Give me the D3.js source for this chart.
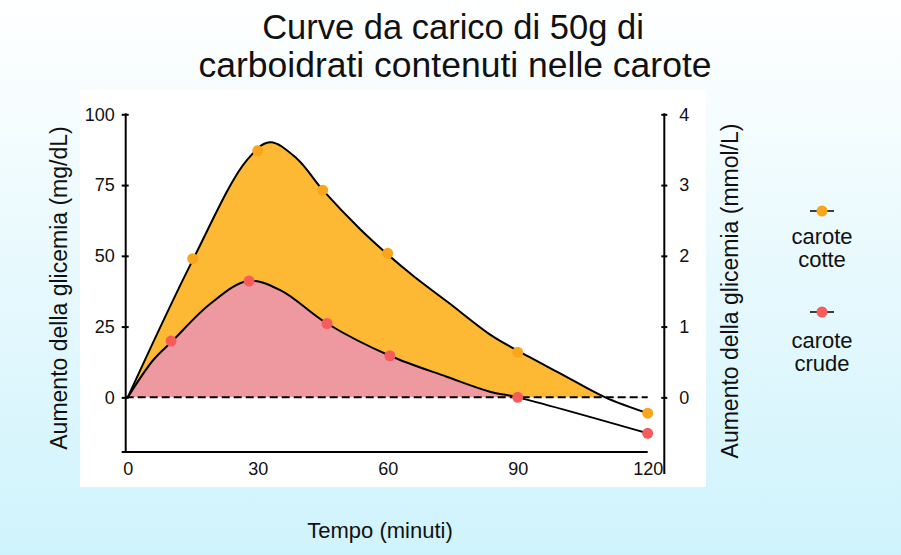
<!DOCTYPE html>
<html>
<head>
<meta charset="utf-8">
<script src="https://cdn.jsdelivr.net/npm/d3@7"></script>
<style>
  html, body { margin: 0; padding: 0; }
  body { width: 901px; height: 555px; overflow: hidden; }
  text { font-family: "Liberation Sans", Arial, sans-serif; fill: #111; }
</style>
</head>
<body>
<svg id="chart" width="901" height="555"></svg>
<script>
// ---------- data ----------
const titleLines = ["Curve da carico di 50g di", "carboidrati contenuti nelle carote"];
const xTicks = [0, 30, 60, 90, 120];
const yTicksMg = [0, 25, 50, 75, 100];
const yTicksMmol = [0, 1, 2, 3, 4];
const seriesNames = ["carote cotte", "carote crude"];

// measured points (dots)
const cotteTime  = [15, 30, 45, 60, 90, 120];
const cotteValue = [49, 87.1, 73.2, 50.9, 15.9, -5.6];
const crudeTime  = [10, 28, 46, 60.5, 90, 120];
const crudeValue = [19.9, 41.1, 26.1, 14.7, 0, -12.7];

// fitted curves as drawn in the reference
const cotteCurveTime  = [0, 15, 27.5, 32.8, 39, 45, 53.6, 60, 66, 74, 84, 90, 100, 110.2, 120];
const cotteCurveValue = [0, 48.5, 83.8, 90.1, 84.4, 73.3, 59.5, 50.5, 42.8, 33.5, 21.8, 16.5, 8.3, 0, -5.6];
const crudeCurveTime  = [0, 5.9, 10.3, 19, 27.7, 35.2, 46, 60.5, 73.6, 83.6, 90, 120];
const crudeCurveValue = [0, 13.2, 19.9, 33, 41.1, 37.9, 26.1, 14.7, 7.3, 2, 0, -12.7];

const colors = {
  cotteFill: "#fdb834", cotteDot: "#f9a61c",
  crudeFill: "#ee989f", crudeDot: "#f75c5c"
};

// ---------- drawing ----------
const svg = d3.select("#chart");
const defs = svg.append("defs");
const grad = defs.append("linearGradient").attr("id", "bg").attr("x1", 0).attr("y1", 0).attr("x2", 0).attr("y2", 1);
grad.append("stop").attr("offset", "0%").attr("stop-color", "#ffffff");
grad.append("stop").attr("offset", "100%").attr("stop-color", "#cff3fc");
svg.append("rect").attr("width", 901).attr("height", 555).attr("fill", "url(#bg)");

// white plot panel
svg.append("rect").attr("x", 80).attr("y", 90).attr("width", 626).attr("height", 397).attr("fill", "#ffffff");

const x = d3.scaleLinear().domain([0, 120]).range([127.7, 647.7]);
const y = d3.scaleLinear().domain([-19.3, 100]).range([452, 114.3]);
const yR = d3.scaleLinear().domain([-19.3 / 25, 4]).range([452, 114.3]);

const axisXLeft = 125.7, axisXRight = 664.3, axisYBottom = 452;

// clip for positive area
defs.append("clipPath").attr("id", "pos").append("rect")
  .attr("x", 0).attr("y", 0).attr("width", 901).attr("height", y(0));

const cotteCurve = cotteCurveTime.map((t, i) => [t, cotteCurveValue[i]]);
const crudeCurve = crudeCurveTime.map((t, i) => [t, crudeCurveValue[i]]);

const curveType = d3.curveCatmullRom.alpha(0.5);
const area = d3.area().x(d => x(d[0])).y0(y(0)).y1(d => y(d[1])).curve(curveType);
const line = d3.line().x(d => x(d[0])).y(d => y(d[1])).curve(curveType);

const gClip = svg.append("g").attr("clip-path", "url(#pos)");
gClip.append("path").datum(cotteCurve).attr("d", area).attr("fill", colors.cotteFill);
gClip.append("path").datum(crudeCurve).attr("d", area).attr("fill", colors.crudeFill);

svg.append("path").datum(cotteCurve).attr("d", line).attr("fill", "none").attr("stroke", "#000").attr("stroke-width", 2);
svg.append("path").datum(crudeCurve).attr("d", line).attr("fill", "none").attr("stroke", "#000").attr("stroke-width", 2);

// dashed zero line
svg.append("line").attr("x1", axisXLeft).attr("x2", x(120)).attr("y1", y(0)).attr("y2", y(0))
  .attr("stroke", "#000").attr("stroke-width", 2).attr("stroke-dasharray", "8,4");

// dots
svg.append("g").selectAll("circle").data(cotteTime).join("circle")
  .attr("cx", d => x(d)).attr("cy", (d, i) => y(cotteValue[i])).attr("r", 5.5).attr("fill", colors.cotteDot);
svg.append("g").selectAll("circle").data(crudeTime).join("circle")
  .attr("cx", d => x(d)).attr("cy", (d, i) => y(crudeValue[i])).attr("r", 5.5).attr("fill", colors.crudeDot);

// left axis
const gL = svg.append("g").attr("transform", `translate(${axisXLeft},0)`)
  .call(d3.axisLeft(y).tickValues(yTicksMg).tickSize(4).tickSizeOuter(0).tickPadding(7));
gL.select(".domain").remove();
gL.selectAll(".tick line").attr("x1", -4).attr("x2", 3).attr("stroke-width", 2);
gL.selectAll(".tick text").style("font-size", "18px").attr("fill", "#111");
gL.append("line").attr("x1", 0).attr("x2", 0).attr("y1", y(100) - 1).attr("y2", axisYBottom + 1).attr("stroke", "#000").attr("stroke-width", 2);
gL.append("line").attr("x1", -4).attr("x2", 0).attr("y1", axisYBottom).attr("y2", axisYBottom).attr("stroke", "#000").attr("stroke-width", 2);

// bottom axis
const gB = svg.append("g").attr("transform", `translate(0,${axisYBottom})`)
  .call(d3.axisBottom(x).tickValues(xTicks).tickSize(0).tickPadding(10));
gB.select(".domain").remove();
gB.append("line").attr("x1", axisXLeft).attr("x2", x(120)).attr("y1", 0).attr("y2", 0).attr("stroke", "#000").attr("stroke-width", 2);
gB.selectAll(".tick text").style("font-size", "18px").attr("fill", "#111");

// right axis
const gR = svg.append("g").attr("transform", `translate(${axisXRight},0)`)
  .call(d3.axisRight(yR).tickValues(yTicksMmol).tickFormat(d3.format("d")).tickSize(3).tickSizeOuter(0).tickPadding(12));
gR.select(".domain").remove();
gR.selectAll(".tick line").attr("x1", -3).attr("x2", 3).attr("stroke-width", 2);
gR.selectAll(".tick text").style("font-size", "18px").attr("fill", "#111");
gR.append("line").attr("x1", 0).attr("x2", 0).attr("y1", yR(4) - 1).attr("y2", 474).attr("stroke", "#000").attr("stroke-width", 2);

// title
svg.append("text").attr("x", 453).attr("y", 38.5).attr("text-anchor", "middle").style("font-size", "34.5px").text(titleLines[0]);
svg.append("text").attr("x", 455).attr("y", 76.5).attr("text-anchor", "middle").style("font-size", "35.5px").text(titleLines[1]);

// axis titles
svg.append("text").attr("transform", "translate(67,288) rotate(-90)").attr("text-anchor", "middle")
  .style("font-size", "23px").text("Aumento della glicemia (mg/dL)");
svg.append("text").attr("transform", "translate(738,291) rotate(-90)").attr("text-anchor", "middle")
  .style("font-size", "23px").text("Aumento della glicemia (mmol/L)");
svg.append("text").attr("x", 380).attr("y", 538).attr("text-anchor", "middle")
  .style("font-size", "22px").text("Tempo (minuti)");

// legend
const legend = [
  { name: seriesNames[0], color: colors.cotteDot, y: 211, textY: 244 },
  { name: seriesNames[1], color: colors.crudeDot, y: 312, textY: 348 }
];
const lg = svg.append("g").selectAll("g").data(legend).join("g");
lg.append("line").attr("x1", 810).attr("x2", 834).attr("y1", d => d.y).attr("y2", d => d.y).attr("stroke", "#000").attr("stroke-width", 1.5);
lg.append("circle").attr("cx", 822).attr("cy", d => d.y).attr("r", 5.5).attr("fill", d => d.color);
lg.each(function(d) {
  const parts = d.name.split(" ");
  const t = d3.select(this).append("text").attr("text-anchor", "middle").style("font-size", "22px");
  parts.forEach((p, i) => t.append("tspan").attr("x", 822).attr("y", d.textY + i * 23).text(p));
});
</script>
</body>
</html>
